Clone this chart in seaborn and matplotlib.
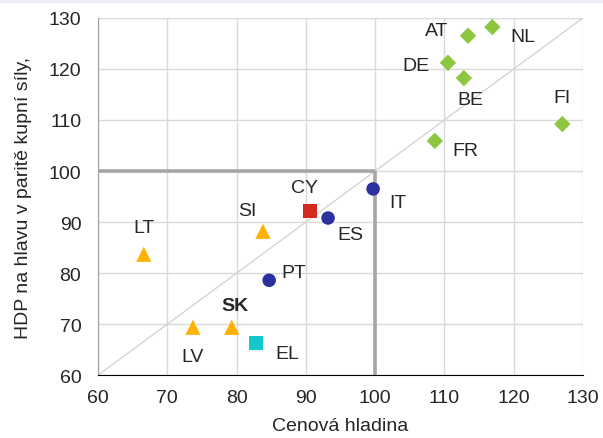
import matplotlib
matplotlib.use("Agg")
import matplotlib.pyplot as plt
import seaborn as sns
import pandas as pd

# chart data
countries = ["NL", "AT", "DE", "BE", "FI", "FR", "IT", "CY", "ES", "SI",
             "LT", "PT", "LV", "SK", "EL"]
price_level = [116.9, 113.4, 110.5, 112.8, 127.0, 108.6, 99.7, 90.6, 93.2, 83.8,
               66.6, 84.7, 73.7, 79.3, 82.8]
gdp_pps = [128.2, 126.5, 121.2, 118.2, 109.2, 105.9, 96.5, 92.2, 90.8, 88.2,
           83.7, 78.6, 69.4, 69.4, 66.3]
groups = ["core", "core", "core", "core", "core", "core", "south", "cy", "south", "new",
          "new", "south", "new", "new", "el"]

# label offsets in pixels (dx, dy)
label_offsets = {
    "NL": (31, -9), "AT": (-31, 5), "DE": (-32, -3), "BE": (6, -21),
    "FI": (0, 27), "FR": (31, -10), "IT": (25, -14), "CY": (-6, 23),
    "ES": (22, -17), "SI": (-16, 21), "LT": (0, 27), "PT": (25, 8),
    "LV": (0, -29), "SK": (3, 22), "EL": (31, -10),
}

palette = {"core": "#8DC63F", "south": "#2B2FA0", "cy": "#D52B1E",
           "el": "#14C8CC", "new": "#FFB300"}
markers = {"core": "D", "south": "o", "cy": "s", "el": "s", "new": "^"}
sizes = {"core": 70, "south": 95, "cy": 95, "el": 95, "new": 120}

df = pd.DataFrame({"country": countries, "price": price_level,
                   "gdp": gdp_pps, "group": groups})

sns.set_style("white")
plt.rcParams["font.family"] = ["Liberation Sans", "DejaVu Sans"]

fig, ax = plt.subplots(figsize=(6.03, 4.39), dpi=100)
fig.subplots_adjust(left=0.1625, right=0.967, top=0.957, bottom=0.143)

# thin band at the top of the picture
fig.patches.append(plt.Rectangle((0, 1 - 3 / 439), 1, 3 / 439, transform=fig.transFigure,
                                 color="#E9ECF6", zorder=0))

ax.set_xlim(60, 130)
ax.set_ylim(60, 130)
ax.set_xticks(range(60, 131, 10))
ax.set_yticks(range(60, 131, 10))
ax.grid(True, color="#D9D9D9", linewidth=1)
ax.set_axisbelow(True)

# diagonal and reference lines
ax.plot([60, 130], [60, 130], color="#D0D0D0", linewidth=0.9, zorder=1)
ax.plot([60, 100], [100, 100], color="#A6A6A6", linewidth=2.6, zorder=2,
        solid_capstyle="butt")
ax.plot([100, 100], [60, 100], color="#A6A6A6", linewidth=2.6, zorder=2,
        solid_capstyle="butt")

sns.scatterplot(data=df, x="price", y="gdp", hue="group", style="group",
                size="group", sizes=sizes, palette=palette, markers=markers,
                linewidth=0, legend=False, ax=ax, zorder=3)

for c, x, y in zip(countries, price_level, gdp_pps):
    dx, dy = label_offsets[c]
    ax.annotate(c, (x, y), xytext=(dx, dy), textcoords="offset pixels",
                ha="center", va="center", fontsize=14,
                fontweight="bold" if c == "SK" else "normal")

for side in ["top", "right"]:
    ax.spines[side].set_visible(False)
ax.spines["left"].set_color("#A0A0A0")
ax.spines["bottom"].set_color("black")
ax.tick_params(axis="y", labelsize=14, length=0, pad=12)
ax.tick_params(axis="x", labelsize=14, length=0, pad=10)
ax.set_xlabel("Cenová hladina", fontsize=14, labelpad=8)
ax.set_ylabel("HDP na hlavu v paritě kupní síly,", fontsize=14, labelpad=12)

fig.savefig("out.png", dpi=100)
